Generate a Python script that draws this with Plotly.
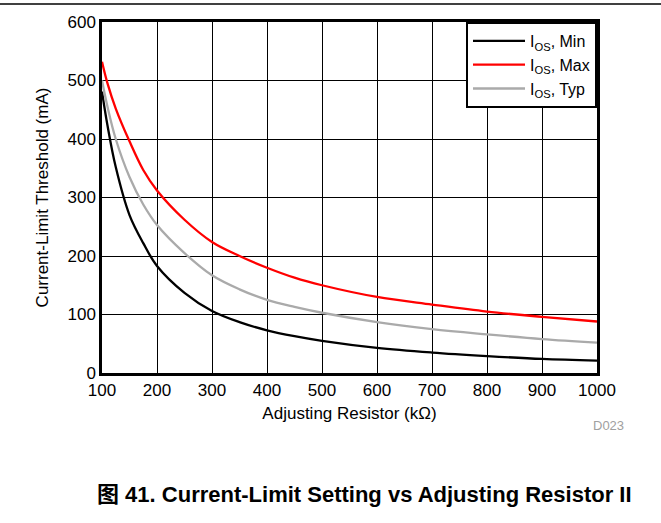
import plotly.graph_objects as go

resistance = [100, 110, 125, 150, 175, 200, 250, 300, 350, 400, 450, 500, 600, 700, 800, 900, 1000]
ios_min = [481, 423, 352, 270, 222, 183, 137, 106, 87, 73, 63, 55, 43, 35, 29, 24, 21]
ios_max = [532, 495, 452, 396, 347, 312, 262, 224, 200, 180, 163, 150, 130, 117, 105, 96, 88]
ios_typ = [500, 455, 400, 335, 288, 253, 205, 167, 143, 125, 113, 103, 87, 75, 66, 58, 52]

x_ticks = [100, 200, 300, 400, 500, 600, 700, 800, 900, 1000]
y_ticks = [0, 100, 200, 300, 400, 500, 600]

FONT = "Liberation Sans, Arial, Noto Sans CJK SC, sans-serif"
L, R, T, B = 102, 64, 22, 150
PW = 661 - L - R
PH = 523 - T - B

fig = go.Figure()
fig.add_trace(go.Scatter(x=resistance, y=ios_min, mode="lines", line=dict(color="black", width=2.3, shape="spline"),
                         name="I<sub>OS</sub>, Min"))
fig.add_trace(go.Scatter(x=resistance, y=ios_max, mode="lines", line=dict(color="#ff0000", width=2.3, shape="spline"),
                         name="I<sub>OS</sub>, Max"))
fig.add_trace(go.Scatter(x=resistance, y=ios_typ, mode="lines", line=dict(color="#aaaaaa", width=2.3, shape="spline"),
                         name="I<sub>OS</sub>, Typ"))

fig.update_layout(
    width=661, height=523,
    margin=dict(l=L, r=R, t=T, b=B),
    paper_bgcolor="white", plot_bgcolor="white",
    font=dict(family=FONT, size=17, color="black"),
    showlegend=True,
    legend=dict(x=1, y=1, xanchor="right", yanchor="top", bgcolor="white",
                bordercolor="black", borderwidth=2, font=dict(size=16),
                tracegroupgap=0, itemwidth=52),
    xaxis=dict(range=[100, 1000], tickvals=x_ticks, showgrid=True, gridcolor="black", gridwidth=1,
               showline=True, linecolor="black", linewidth=2.5, mirror=True, ticks="", automargin=False,
               title=dict(text="Adjusting Resistor (kΩ)", standoff=8, font=dict(size=17)), zeroline=False),
    yaxis=dict(range=[0, 600], tickvals=y_ticks, showgrid=True, gridcolor="black", gridwidth=1,
               showline=True, linecolor="black", linewidth=2.5, mirror=True, ticks="", automargin=False,
               title=dict(text="Current-Limit Threshold (mA)", standoff=15, font=dict(size=17)), zeroline=False),
)

fig.add_shape(type="line", xref="paper", yref="paper", x0=-L / PW, x1=(661 - L) / PW,
              y0=(T + PH - 4) / PH, y1=(T + PH - 4) / PH, line=dict(color="black", width=1.5))

fig.add_annotation(text="D023", xref="paper", yref="paper", x=(608 - L) / PW, y=-(425 - T - PH) / PH,
                   xanchor="center", yanchor="middle",
                   showarrow=False, font=dict(size=13, color="#a0a0a0"))
fig.add_annotation(text="<b>图 41. Current-Limit Setting vs Adjusting Resistor II</b>", xref="paper", yref="paper",
                   x=(364 - L) / PW, y=-(494 - T - PH) / PH, xanchor="center", yanchor="middle",
                   showarrow=False, font=dict(size=22, color="black"))

fig.write_html("out.html", config={"displayModeBar": False},
               post_script="document.body.style.margin='0';")
